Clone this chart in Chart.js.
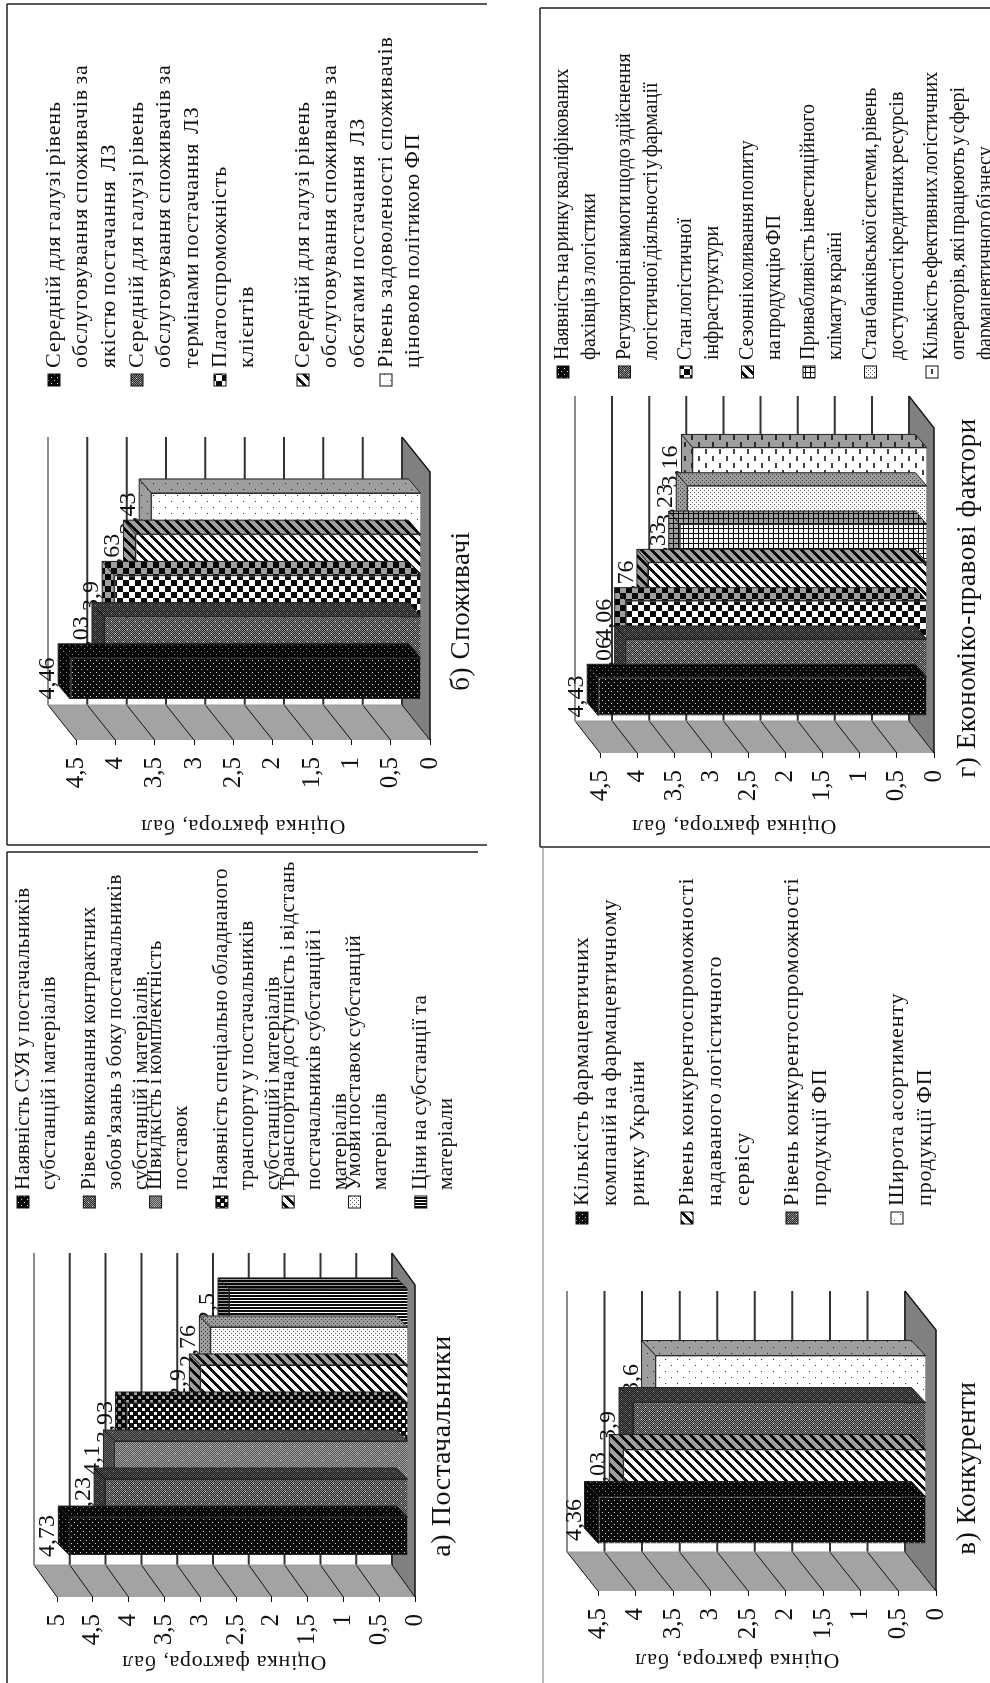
<!DOCTYPE html>
<html><head><meta charset="utf-8">
<script src="https://cdn.jsdelivr.net/npm/chart.js@4"></script>
<style>
html,body{margin:0;padding:0;background:#fff;width:990px;height:1683px;overflow:hidden}
#stage{position:absolute;left:0;top:1683px;width:1683px;height:990px;transform-origin:0 0;transform:rotate(-90deg);filter:blur(0.35px)}
canvas{position:absolute;display:block}
</style></head><body><div id="stage"></div>
<script>
const tickFormat = v => String(v).replace('.', ',');
const axisTitle = 'Оцінка фактора, бал';

const suppliersTitle = 'а) Постачальники';
const suppliersLabels = [
 'Наявність СУЯ у постачальників\nсубстанцій і матеріалів',
 'Рівень виконання контрактних\nзобов\'язань з боку постачальників\nсубстанцій і матеріалів',
 'Швидкість і комплектність\nпоставок',
 'Наявність спеціально обладнаного\nтранспорту у постачальників\nсубстанцій і матеріалів',
 'Транспортна доступність і відстань\nпостачальників субстанцій і\nматеріалів',
 'Умови поставок субстанцій\nматеріалів',
 'Ціни на субстанції та\nматеріали'];
const suppliersValues = [4.73, 4.23, 4.1, 3.93, 2.9, 2.76, 2.5];

const consumersTitle = 'б) Споживачі';
const consumersLabels = [
 'Середній для галузі рівень\nобслуговування споживачів за\nякістю постачання  ЛЗ',
 'Середній для галузі рівень\nобслуговування споживачів за\nтермінами постачання  ЛЗ',
 'Платоспроможність\nклієнтів',
 'Середній для галузі рівень\nобслуговування споживачів за\nобсягами постачання  ЛЗ',
 'Рівень задоволеності споживачів\nціновою політикою ФП'];
const consumersValues = [4.46, 4.03, 3.9, 3.63, 3.43];

const competitorsTitle = 'в) Конкуренти';
const competitorsLabels = [
 'Кількість фармацевтичних\nкомпаній на фармацевтичному\nринку України',
 'Рівень конкурентоспроможності\nнадаваного логістичного\nсервісу',
 'Рівень конкурентоспроможності\nпродукції ФП',
 'Широта асортименту\nпродукції ФП'];
const competitorsValues = [4.36, 4.03, 3.9, 3.6];

const legalTitle = 'г) Економіко-правові фактори';
const legalLabels = [
 'Наявність на ринку кваліфікованих\nфахівців з логістики',
 'Регуляторні вимоги щодо здійснення\nлогістичної діяльності у фармації',
 'Стан логістичної\nінфраструктури',
 'Сезонні коливання попиту\nна продукцію ФП',
 'Привабливість інвестиційного\nклімату в країні',
 'Стан банківської системи, рівень\nдоступності кредитних ресурсів',
 'Кількість ефективних логістичних\nоператорів, які працюють у сфері\nфармацевтичного бізнесу'];
const legalValues = [4.43, 4.06, 4.06, 3.76, 3.33, 3.23, 3.16];

const FONT = '"Liberation Serif"';
const W = '#fff', K = '#0a0a0a';
const near = (x, y, cx, cy, r) => (x - cx) * (x - cx) + (y - cy) * (y - cy) <= r * r;
const tiles = {
  dense: [6, (x, y) => (x === 0 && y === 0) || (x === 3 && y === 3) ? '#ddd' : K],
  zigzag: [8, (x, y) => (x === 0 && y === 0) || (x === 4 && y === 4) ? W : ((x + y) % 2 ? '#2a2a2a' : '#8a8a8a')],
  grayDots: [14, (x, y) => (x === 0 && y === 0) || (x === 7 && y === 7) ? W : ((x + y) % 2 ? '#4c4c4c' : '#a8a8a8')],
  chain: [8, (x, y) => near(x, y, 2, 2, 1.5) || near(x, y, 6, 6, 1.5) ? W : K],
  check: [12, (x, y) => (Math.floor(x / 6) + Math.floor(y / 6)) % 2 ? W : K],
  diag: [10, (x, y) => (x + y) % 10 < 4 ? K : W],
  fineDots: [4, (x, y) => (x === 0 && y === 0) || (x === 2 && y === 2) ? '#555' : W],
  sparse: [12, (x, y) => (x === 0 && y === 0) || (x === 6 && y === 6) ? '#333' : W],
  vlines: [3, (x) => x === 0 ? W : K],
  plaid: [5, (x, y) => x === 0 || y === 0 ? K : W],
  blotch: [14, (x, y) => (y <= 1 && x <= 4) || (y >= 7 && y <= 8 && x >= 7 && x <= 11) ? '#444' : W]
};
const patternCache = {};
function pattern(name) {
  if (patternCache[name]) return patternCache[name];
  const [n, f] = tiles[name];
  const c = document.createElement('canvas'); c.width = c.height = n;
  const g = c.getContext('2d');
  for (let y = 0; y < n; y++) for (let x = 0; x < n; x++) { g.fillStyle = f(x, y); g.fillRect(x, y, 1, 1); }
  return patternCache[name] = g.createPattern(c, 'repeat');
}
function poly(ctx, pts) {
  ctx.beginPath();
  pts.forEach((p, i) => i ? ctx.lineTo(p[0], p[1]) : ctx.moveTo(p[0], p[1]));
  ctx.closePath();
}

const panels = [
 { title: suppliersTitle, labels: suppliersLabels, values: suppliersValues, max: 5,
   patterns: ['dense', 'zigzag', 'grayDots', 'chain', 'diag', 'fineDots', 'vlines'],
   box: [0, 0, 835, 495], area: [86, 398, 57, 415], wall: [32, 23], shift: [19, 7], depth: [11, 11], pct: 0.853,
   legend: { x: 493, y0: 23, pitch: 66.3, line: 26, size: 21, sp: 0.5, ws: -2 },
   caption: [237, 443, 28, 0.6], titlePos: [21, 224],
   frame: [[831, 7, 831, 478], [831, 7, 0, 7]], frameColor: '#222' },
 { title: consumersTitle, labels: consumersLabels, values: consumersValues, max: 4.5,
   patterns: ['dense', 'zigzag', 'check', 'diag', 'sparse'],
   box: [835, 0, 848, 495], area: [943, 1211, 76, 430], wall: [35, 28], shift: [10, 9], depth: [14, 12], pct: 0.769,
   legend: { x: 1315, y0: 54, pitch: 83, line: 27.5, size: 22, sp: 0.9, ws: -2 },
   caption: [1072, 462, 27, 0.6], titlePos: [857, 243],
   frame: [[838, 7, 838, 487], [1679, 7, 1679, 487], [838, 7, 1679, 7]], frameColor: '#222' },
 { title: competitorsTitle, labels: competitorsLabels, values: competitorsValues, max: 4.5,
   patterns: ['dense', 'diag', 'zigzag', 'sparse'],
   box: [0, 495, 835, 495], area: [92, 353, 598, 936], wall: [39, 31], shift: [11, 10], depth: [15, 14], pct: 0.72,
   legend: { x: 477, y0: 582, pitch: 105, line: 28, size: 22, sp: 0.9, ws: -2 },
   caption: [215, 968, 27, 0.6], titlePos: [23, 737],
   frame: [[0, 543, 835, 543]], frameColor: '#bbb' },
 { title: legalTitle, labels: legalLabels, values: legalValues, max: 4.5,
   patterns: ['dense', 'zigzag', 'check', 'diag', 'plaid', 'fineDots', 'blotch'],
   box: [835, 495, 848, 495], area: [930, 1255, 600, 934], wall: [32, 25], shift: [9, 7], depth: [13, 11], pct: 0.825,
   legend: { x: 1323, y0: 563, pitch: 61.5, line: 27, size: 20, sp: 0, ws: -3 },
   caption: [1085, 968, 27, 0.6], titlePos: [857, 734],
   frame: [[836, 540, 1675, 540], [836, 540, 836, 990], [1675, 540, 1675, 990]], frameColor: '#222' }
];

const AXIS_W = 60;
const threeD = {
  id: 'threeD',
  beforeDatasetsDraw(chart, _a, o) {
    const p = o.panel, ctx = chart.ctx, y = chart.scales.y;
    const { left: L, right: R, top: T, bottom: B } = chart.chartArea;
    const [dx, dy] = p.wall;
    ctx.save();
    ctx.fillStyle = '#fff'; ctx.fillRect(L + dx, T - dy, R - L, B - T);
    ctx.fillStyle = '#a3a3a3'; poly(ctx, [[L, T], [L + dx, T - dy], [L + dx, B - dy], [L, B]]); ctx.fill();
    ctx.fillStyle = '#808080'; poly(ctx, [[L, B], [L + dx, B - dy], [R + dx, B - dy], [R, B]]); ctx.fill();
    y.ticks.forEach(t => {
      const py = y.getPixelForValue(t.value);
      ctx.beginPath(); ctx.moveTo(L, py); ctx.lineTo(L + dx, py - dy); ctx.strokeStyle = '#111'; ctx.lineWidth = 1; ctx.stroke();
      const top = t.value === p.max;
      ctx.beginPath(); ctx.moveTo(L + dx, py - dy); ctx.lineTo(R + dx, py - dy);
      ctx.strokeStyle = top ? '#8c8c8c' : '#333'; ctx.lineWidth = 2; ctx.stroke();
    });
    ctx.beginPath(); ctx.moveTo(L + dx, T - dy); ctx.lineTo(L + dx, B - dy); ctx.strokeStyle = '#999'; ctx.lineWidth = 1; ctx.stroke();
    ctx.beginPath(); ctx.moveTo(L, B); ctx.lineTo(R, B); ctx.lineTo(R + dx, B - dy); ctx.strokeStyle = '#111'; ctx.lineWidth = 1.5; ctx.stroke();
    // value labels sit behind the bars, as in the source chart
    const [ox, oy] = p.shift, [bx, by] = p.depth;
    ctx.font = '24px ' + FONT; ctx.textAlign = 'center'; ctx.textBaseline = 'alphabetic'; ctx.fillStyle = '#111';
    chart.data.datasets.forEach((d, i) => {
      const el = chart.getDatasetMeta(i).data[0];
      ctx.fillText(tickFormat(d.data[0]), el.x + ox, el.y - oy - by - 4);
    });
    ctx.restore();
  },
  beforeDatasetDraw(chart, args, o) {
    const p = o.panel, ctx = chart.ctx;
    const [ox, oy] = p.shift, [bx, by] = p.depth;
    ctx.save();
    ctx.translate(ox, -oy);
    const el = args.meta.data[0];
    const l = el.x - el.width / 2, r = el.x + el.width / 2, t = el.y, b = el.base;
    const faces = [
      [[r, t], [r + bx, t - by], [r + bx, b - by], [r, b]],
      [[l, t], [r, t], [r + bx, t - by], [l + bx, t - by]]
    ];
    faces.forEach(f => {
      poly(ctx, f);
      ctx.fillStyle = pattern(p.patterns[args.index]); ctx.fill();
      ctx.fillStyle = 'rgba(0,0,0,0.38)'; ctx.fill();
      ctx.strokeStyle = '#222'; ctx.lineWidth = 1; ctx.stroke();
    });
  },
  afterDatasetDraw(chart) { chart.ctx.restore(); },
  afterDraw(chart, _a, o) {
    const p = o.panel, ctx = chart.ctx, [X0, Y0] = p.box;
    ctx.save();
    ctx.translate(-X0, -Y0);
    ctx.strokeStyle = p.frameColor; ctx.lineWidth = p.frameColor === '#bbb' ? 2 : 1.5;
    p.frame.forEach(f => { ctx.beginPath(); ctx.moveTo(f[0], f[1]); ctx.lineTo(f[2], f[3]); ctx.stroke(); });
    // legend
    const lg = p.legend;
    ctx.textBaseline = 'middle'; ctx.textAlign = 'left';
    ctx.font = lg.size + 'px ' + FONT;
    ctx.letterSpacing = lg.sp + 'px';
    ctx.wordSpacing = lg.ws + 'px';
    p.labels.forEach((txt, i) => {
      const y = lg.y0 + i * lg.pitch;
      ctx.fillStyle = pattern(p.patterns[i]);
      ctx.fillRect(lg.x - 18, y - 6, 12, 12);
      ctx.strokeStyle = '#111'; ctx.lineWidth = 1; ctx.strokeRect(lg.x - 18, y - 6, 12, 12);
      ctx.fillStyle = '#111';
      txt.split('\n').forEach((line, k) => ctx.fillText(line, lg.x, y + k * lg.line));
    });
    // caption
    const c = p.caption;
    ctx.font = c[2] + 'px ' + FONT; ctx.textAlign = 'center'; ctx.letterSpacing = c[3] + 'px'; ctx.wordSpacing = '0px';
    ctx.fillText(p.title, c[0], c[1]);
    ctx.restore();
  }
};

panels.forEach(p => {
  const [X0, Y0, w, h] = p.box, [L, R, T, B] = p.area;
  const cv = document.createElement('canvas');
  cv.width = w; cv.height = h;
  cv.style.left = X0 + 'px'; cv.style.top = Y0 + 'px';
  cv.style.width = w + 'px'; cv.style.height = h + 'px';
  document.getElementById('stage').appendChild(cv);
  new Chart(cv.getContext('2d'), {
    type: 'bar',
    data: {
      labels: [''],
      datasets: p.labels.map((lab, i) => ({
        label: lab.replace(/\n/g, ' '),
        data: [p.values[i]],
        backgroundColor: pattern(p.patterns[i]),
        borderColor: '#222', borderWidth: 1,
        categoryPercentage: p.pct, barPercentage: 1, clip: false
      }))
    },
    options: {
      responsive: false, animation: false, devicePixelRatio: 1,
      layout: { padding: { left: L - X0 - AXIS_W, right: X0 + w - R, top: T - Y0, bottom: Y0 + h - B } },
      plugins: { legend: { display: false }, tooltip: { enabled: false }, threeD: { panel: p } },
      scales: {
        x: { display: false },
        y: {
          min: 0, max: p.max,
          ticks: { stepSize: 0.5, autoSkip: false, padding: 12, color: '#111', maxRotation: 0,
                   font: { family: 'Liberation Serif', size: 25 }, callback: tickFormat },
          grid: { drawOnChartArea: false, drawTicks: true, tickLength: 5, color: '#111' },
          border: { display: true, color: '#111' },
          title: { display: true, text: axisTitle, color: '#111', padding: 0, font: { family: 'Liberation Serif', size: 22 } },
          afterFit(s) {
            s.width = AXIS_W;
            s.paddingTop = s.paddingBottom = s.paddingLeft = s.paddingRight = 0;
            if (!s._moved) {
              s._moved = true;
              const orig = s.drawTitle;
              s.drawTitle = function () {
                const c = this.ctx, lh = 22 * 1.2;
                c.save();
                c.translate(p.titlePos[0] - X0 - (this.left + lh / 2), p.titlePos[1] - Y0 - (this.top + this.bottom) / 2);
                c.letterSpacing = '0.8px';
                orig.call(this);
                c.restore();
              };
            }
          }
        }
      }
    },
    plugins: [threeD]
  });
});
</script></body></html>
